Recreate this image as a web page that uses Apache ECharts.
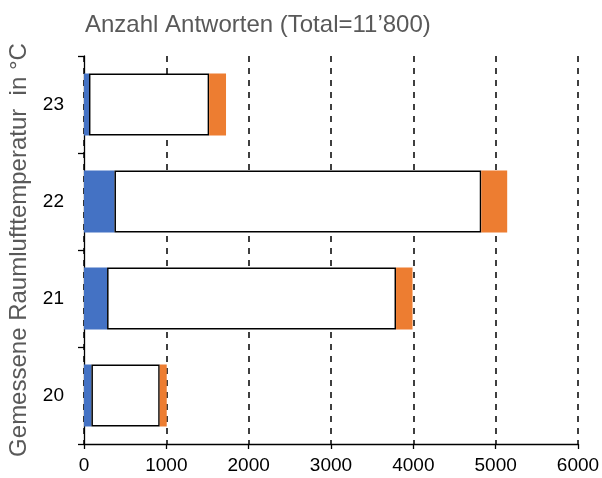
<!DOCTYPE html>
<html>
<head>
<meta charset="utf-8">
<script src="https://cdn.jsdelivr.net/npm/echarts@6/dist/echarts.min.js"></script>
<style>html,body{margin:0;padding:0;background:#fff}#c{width:602px;height:478px}</style>
</head>
<body>
<div id="c"></div>
<script>
var categories = ['20', '21', '22', '23'];
var blueValues = [90, 280, 370, 60];
var whiteValues = [830, 3510, 4455, 1460];
var orangeValues = [85, 200, 315, 205];
var xTicks = [0, 1000, 2000, 3000, 4000, 5000, 6000];
var titleText = 'Anzahl Antworten (Total=11\u2019800)';
var yName = 'Gemessene Raumlufttemperatur  in \u00B0C';

var chart = echarts.init(document.getElementById('c'), null, {renderer: 'canvas'});
var font = 'Liberation Sans, Arial, sans-serif';
chart.setOption({
  animation: false,
  backgroundColor: '#fff',
  title: {
    text: titleText, left: 80, top: 8,
    textStyle: {fontFamily: font, fontSize: 24, fontWeight: 'normal', color: '#595959'}
  },
  grid: {left: 84, right: 24, top: 56, bottom: 34, containLabel: false, outerBoundsMode: 'none'},
  xAxis: {
    type: 'value', min: xTicks[0], max: xTicks[xTicks.length - 1], interval: 1000,
    axisLine: {show: true, lineStyle: {color: '#000', width: 1.3}},
    axisTick: {show: true, length: 5, lineStyle: {color: '#000', width: 1.3}},
    axisLabel: {fontFamily: font, fontSize: 19, color: '#000', margin: 12,
      formatter: function (v) { return String(v); }},
    splitLine: {show: true, lineStyle: {color: '#000', type: [6, 6], width: 1.5}}
  },
  yAxis: {
    type: 'category', data: categories,
    name: yName, nameLocation: 'middle', nameRotate: 90, nameGap: 53,
    nameTextStyle: {fontFamily: font, fontSize: 24, color: '#595959'},
    axisLine: {show: true, lineStyle: {color: '#000', width: 1.3}},
    axisTick: {show: true, length: 6, lineStyle: {color: '#000', width: 1.3}},
    axisLabel: {fontFamily: font, fontSize: 19, color: '#000', margin: 20},
    splitLine: {show: false}
  },
  series: [
    {type: 'bar', stack: 's', data: blueValues, barWidth: 62, itemStyle: {color: '#4472C4'}},
    {type: 'bar', stack: 's', data: whiteValues, barWidth: 62, itemStyle: {color: '#fff', borderColor: '#000', borderWidth: 1.5}},
    {type: 'bar', stack: 's', data: orangeValues, barWidth: 62, itemStyle: {color: '#ED7D31'}}
  ]
});
</script>
</body>
</html>
